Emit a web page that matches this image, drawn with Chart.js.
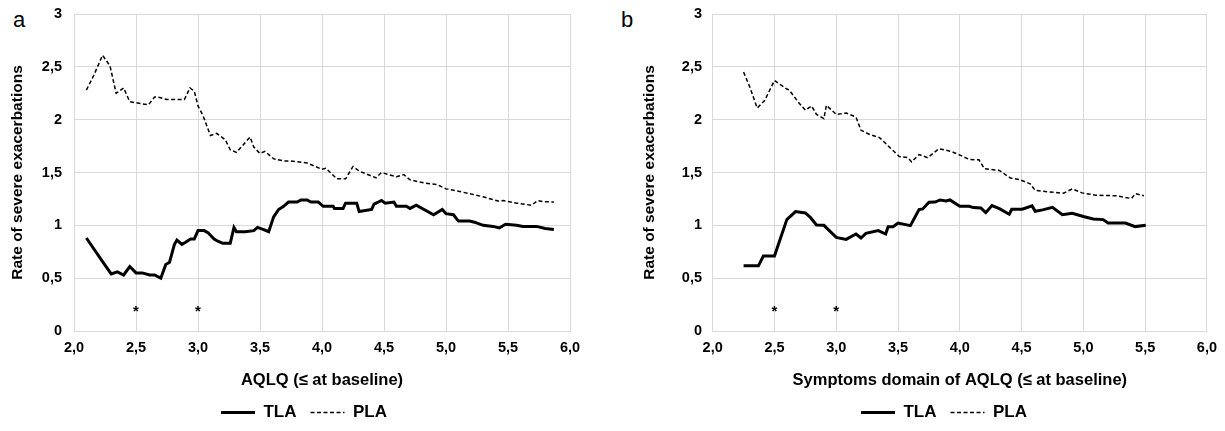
<!DOCTYPE html>
<html lang="en">
<head>
  <meta charset="UTF-8">
  <title>Rate of severe exacerbations by AQLQ at baseline</title>
  <script src="https://cdn.jsdelivr.net/npm/chart.js"></script>
  <style>
    body {
      margin: 0;
      background: #fff;
      width: 1225px;
      height: 431px;
      overflow: hidden;
      position: relative;
      font-family: "Liberation Sans", Arial, sans-serif;
    }
    .panel { position: absolute; top: 0; height: 431px; }
    #panelA { left: 0; width: 612px; }
    #panelB { left: 612px; width: 613px; }
    .tag {
      position: absolute;
      top: 9px;
      font-size: 22px;
      line-height: 22px;
      color: #000;
    }
  </style>
</head>
<body>
  <div class="tag" style="left:13px">a</div>
  <div class="tag" style="left:621px">b</div>
  <div class="panel" id="panelA"><canvas id="chartA"></canvas></div>
  <div class="panel" id="panelB"><canvas id="chartB"></canvas></div>

  <script>
    // axis ticks
    const xTickValues = [2.0, 2.5, 3.0, 3.5, 4.0, 4.5, 5.0, 5.5, 6.0];
    const yTickValues = [0, 0.5, 1, 1.5, 2, 2.5, 3];

    // significance markers (*)
    const starX = [2.5, 3.0];
    const starY = [0.19, 0.19];

    // panel a : AQLQ total score
    const aTlaX = [2.10, 2.24, 2.30, 2.35, 2.40, 2.45, 2.50, 2.55, 2.61, 2.65, 2.70, 2.74, 2.77, 2.81, 2.83, 2.87, 2.90, 2.94, 2.97, 3.00,
                   3.05, 3.08, 3.13, 3.16, 3.20, 3.26, 3.29, 3.31, 3.38, 3.45, 3.48, 3.53, 3.57, 3.61, 3.65, 3.69, 3.73, 3.80, 3.83, 3.88,
                   3.91, 3.97, 4.01, 4.09, 4.10, 4.17, 4.19, 4.28, 4.30, 4.40, 4.42, 4.48, 4.51, 4.58, 4.60, 4.68, 4.71, 4.76, 4.90, 4.97,
                   5.00, 5.06, 5.10, 5.19, 5.23, 5.30, 5.38, 5.43, 5.48, 5.57, 5.62, 5.73, 5.80, 5.87];
    const aTlaY = [0.88, 0.64, 0.54, 0.56, 0.53, 0.61, 0.55, 0.55, 0.53, 0.53, 0.50, 0.63, 0.65, 0.82, 0.86, 0.82, 0.84, 0.87, 0.87, 0.95,
                   0.95, 0.93, 0.87, 0.85, 0.83, 0.83, 0.98, 0.94, 0.94, 0.95, 0.98, 0.96, 0.94, 1.08, 1.15, 1.18, 1.22, 1.22, 1.24, 1.24,
                   1.22, 1.22, 1.18, 1.18, 1.16, 1.16, 1.21, 1.21, 1.13, 1.15, 1.20, 1.235, 1.21, 1.22, 1.18, 1.18, 1.16, 1.19, 1.10, 1.15,
                   1.11, 1.10, 1.04, 1.04, 1.03, 1.00, 0.99, 0.975, 1.01, 1.00, 0.99, 0.99, 0.97, 0.96];
    const aPlaX = [2.10, 2.16, 2.23, 2.29, 2.34, 2.40, 2.45, 2.50, 2.60, 2.65, 2.69, 2.75, 2.89, 2.935, 2.97, 3.00, 3.04, 3.10, 3.15, 3.22,
                   3.26, 3.31, 3.42, 3.45, 3.50, 3.54, 3.61, 3.69, 3.74, 3.82, 3.88, 4.00, 4.03, 4.12, 4.19, 4.25, 4.30, 4.435, 4.48, 4.535,
                   4.60, 4.66, 4.71, 4.83, 4.925, 5.00, 5.11, 5.19, 5.30, 5.42, 5.46, 5.57, 5.69, 5.74, 5.78, 5.87];
    const aPlaY = [2.28, 2.42, 2.61, 2.51, 2.25, 2.30, 2.17, 2.16, 2.14, 2.215, 2.21, 2.19, 2.19, 2.30, 2.27, 2.13, 2.04, 1.85, 1.87, 1.81,
                   1.715, 1.69, 1.835, 1.74, 1.68, 1.70, 1.63, 1.61, 1.61, 1.60, 1.59, 1.53, 1.54, 1.44, 1.44, 1.557, 1.513, 1.45, 1.50, 1.48,
                   1.46, 1.48, 1.43, 1.40, 1.387, 1.345, 1.32, 1.30, 1.27, 1.23, 1.235, 1.21, 1.19, 1.235, 1.225, 1.22];

    // panel b : symptoms domain
    const bTlaX = [2.25, 2.37, 2.41, 2.50, 2.60, 2.67, 2.75, 2.79, 2.84, 2.90, 3.00, 3.08, 3.16, 3.20, 3.24, 3.34, 3.40, 3.42, 3.46, 3.50,
                   3.60, 3.67, 3.70, 3.75, 3.80, 3.84, 3.89, 3.92, 4.00, 4.075, 4.11, 4.17, 4.21, 4.26, 4.32, 4.40, 4.42, 4.505, 4.585, 4.61,
                   4.67, 4.75, 4.83, 4.91, 5.00, 5.08, 5.16, 5.20, 5.34, 5.42, 5.505];
    const bTlaY = [0.617, 0.617, 0.71, 0.71, 1.054, 1.13, 1.117, 1.076, 1.003, 1.0, 0.886, 0.867, 0.918, 0.88, 0.924, 0.95, 0.918, 0.987, 0.987, 1.022,
                   0.997, 1.149, 1.155, 1.218, 1.22, 1.24, 1.23, 1.24, 1.18, 1.18, 1.168, 1.165, 1.12, 1.187, 1.158, 1.105, 1.152, 1.152, 1.184, 1.133,
                   1.146, 1.171, 1.10, 1.114, 1.083, 1.06, 1.054, 1.022, 1.022, 0.988, 1.0];
    const bPlaX = [2.25, 2.30, 2.36, 2.42, 2.50, 2.60, 2.62, 2.69, 2.75, 2.80, 2.84, 2.90, 2.92, 3.00, 3.08, 3.16, 3.20, 3.27, 3.35, 3.43,
                   3.51, 3.58, 3.61, 3.67, 3.74, 3.83, 3.93, 4.01, 4.075, 4.155, 4.20, 4.32, 4.41, 4.48, 4.57, 4.61, 4.72, 4.84, 4.91, 4.99,
                   5.10, 5.26, 5.39, 5.42, 5.49];
    const bPlaY = [2.45, 2.31, 2.11, 2.18, 2.37, 2.29, 2.28, 2.17, 2.09, 2.13, 2.05, 2.01, 2.136, 2.05, 2.063, 2.025, 1.90, 1.86, 1.83, 1.74,
                   1.652, 1.64, 1.60, 1.67, 1.64, 1.725, 1.70, 1.66, 1.624, 1.62, 1.535, 1.52, 1.447, 1.434, 1.393, 1.33, 1.317, 1.304, 1.345, 1.307,
                   1.285, 1.28, 1.254, 1.30, 1.28];

    const yTitle = 'Rate of severe exacerbations';
    const xTitleA = 'AQLQ (≤ at baseline)';
    const xTitleB = 'Symptoms domain of AQLQ (≤ at baseline)';

    Chart.defaults.font.family = '"Liberation Sans", Arial, sans-serif';
    Chart.defaults.color = '#000';

    function toPoints(xs, ys) {
      return xs.map((x, i) => ({ x: x, y: ys[i] }));
    }

    // draws the "*" markers through the chart scales
    const starPlugin = {
      id: 'stars',
      afterDatasetsDraw(chart) {
        const { ctx, scales: { x, y } } = chart;
        ctx.save();
        ctx.font = 'bold 15px "Liberation Sans", Arial, sans-serif';
        ctx.fillStyle = '#000';
        ctx.textAlign = 'center';
        ctx.textBaseline = 'middle';
        starX.forEach((v, i) => {
          ctx.fillText('*', x.getPixelForValue(v), y.getPixelForValue(starY[i]) + 1);
        });
        ctx.restore();
      }
    };

    // moves the legend sideways (reference legend is not centred on the canvas)
    const legendShift = {
      id: 'legendShift',
      afterLayout(chart, args, opts) {
        if (chart.legend) {
          chart.legend.left += opts.dx;
          chart.legend.right += opts.dx;
        }
      }
    };

    // legend samples: same width / dash as the plotted lines
    function legendLabels(chart) {
      const items = Chart.defaults.plugins.legend.labels.generateLabels(chart);
      return items.map((item, i) => {
        const ds = chart.data.datasets[i];
        item.pointStyle = 'line';
        item.lineWidth = ds.borderWidth;
        item.lineDash = ds.borderDash || [];
        item.strokeStyle = ds.borderColor;
        return item;
      });
    }

    function makeChart(id, tla, pla, xTitle, lay) {
      return new Chart(document.getElementById(id), {
        type: 'line',
        data: {
          datasets: [
            {
              label: 'TLA',
              data: tla,
              borderColor: '#000',
              backgroundColor: '#000',
              borderWidth: 3,
              pointRadius: 0,
              tension: 0
            },
            {
              label: 'PLA',
              data: pla,
              borderColor: '#000',
              backgroundColor: '#000',
              borderWidth: 1.5,
              borderDash: [4, 2.5],
              pointRadius: 0,
              tension: 0
            }
          ]
        },
        options: {
          responsive: true,
          maintainAspectRatio: false,
          animation: false,
          layout: { padding: { left: 0, right: lay.padRight, top: 14, bottom: 0 } },
          scales: {
            x: {
              type: 'linear',
              min: 2,
              max: 6,
              afterBuildTicks: s => { s.ticks = xTickValues.map(v => ({ value: v })); },
              afterFit: s => { s.height = 59; },
              ticks: {
                padding: 8,
                maxRotation: 0,
                autoSkip: false,
                font: { size: 14.5, weight: 'bold' },
                callback: v => v.toFixed(1).replace('.', ',')
              },
              grid: { color: '#d9d9d9', drawTicks: false },
              border: { color: '#d9d9d9' },
              title: {
                display: true,
                text: xTitle,
                font: { size: 16.5, weight: 'bold' },
                padding: { top: 0, bottom: 0 }
              }
            },
            y: {
              min: 0,
              max: 3,
              afterBuildTicks: s => { s.ticks = yTickValues.map(v => ({ value: v })); },
              afterFit: s => { s.width = lay.yWidth; s.paddingTop = 0; },
              ticks: {
                padding: lay.yTickPad,
                font: { size: 14.5, weight: 'bold' },
                callback: v => String(v).replace('.', ',')
              },
              grid: { color: '#d9d9d9', drawTicks: false },
              border: { color: '#d9d9d9' },
              title: {
                display: true,
                text: yTitle,
                font: { size: 15.5, weight: 'bold' },
                padding: { top: lay.yTitlePad, bottom: 0 }
              }
            }
          },
          plugins: {
            legend: {
              position: 'bottom',
              labels: {
                usePointStyle: true,
                pointStyleWidth: 34,
                padding: 14,
                font: { size: 17, weight: 'bold' },
                generateLabels: legendLabels
              }
            },
            legendShift: { dx: lay.legendDx },
            tooltip: { enabled: false }
          }
        },
        plugins: [starPlugin, legendShift]
      });
    }

    makeChart('chartA', toPoints(aTlaX, aTlaY), toPoints(aPlaX, aPlaY), xTitleA,
      { padRight: 42, yWidth: 74, yTickPad: 12, yTitlePad: 8, legendDx: 19 });
    makeChart('chartB', toPoints(bTlaX, bTlaY), toPoints(bPlaX, bPlaY), xTitleB,
      { padRight: 16, yWidth: 100.7, yTickPad: 10.7, yTitlePad: 28.7, legendDx: 33.5 });
  </script>
</body>
</html>
